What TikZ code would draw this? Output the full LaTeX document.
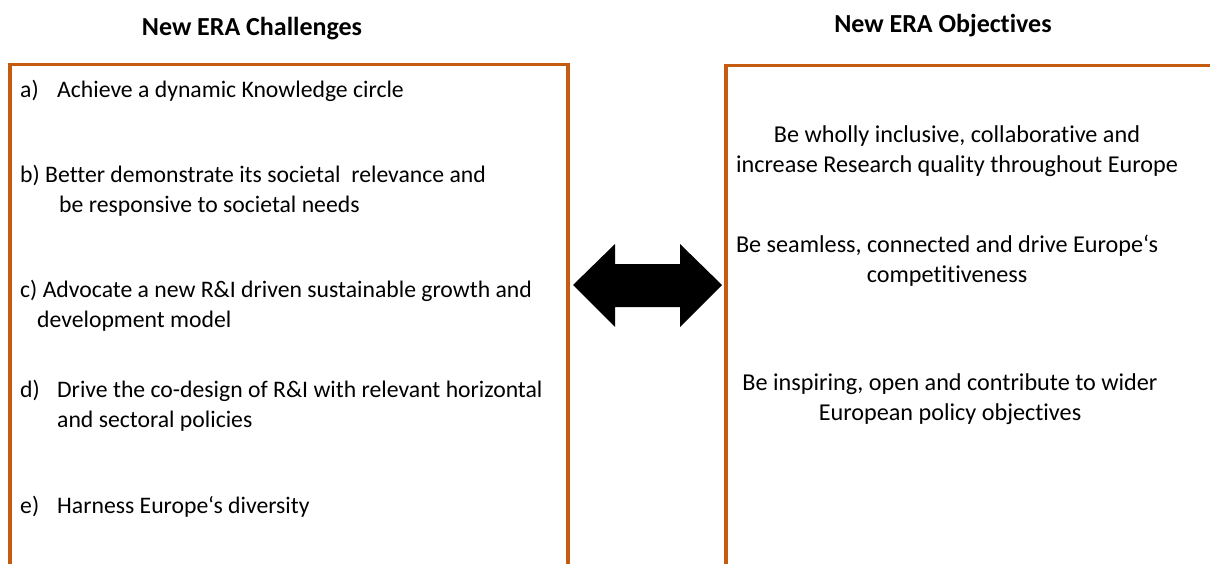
\documentclass[tikz,border=0pt]{standalone}
\usepackage{fontspec}
\setmainfont[Ligatures={NoCommon}]{Carlito}
\definecolor{boxorange}{HTML}{C55A11}
\begin{document}
\begin{tikzpicture}[x=1pt,y=-1pt,
  frame/.style={draw=boxorange,line width=3.5pt},
  heading/.style={font=\fontsize{26}{30}\selectfont\bfseries,anchor=base,inner sep=0pt},
  itemtext/.style={font=\fontsize{23.7}{30}\selectfont,anchor=base west,align=left,inner sep=0pt},
  objtext/.style={font=\fontsize{24.2}{30}\selectfont,anchor=base,align=center,inner sep=0pt},
  bigarrow/.style={fill=black}]
\useasboundingbox (0,0) rectangle (1210,563);
% frames
\draw[frame] (10,600) -- (10,64.5) -- (568,64.5) -- (568,600);
\draw[frame] (726,600) -- (726,65.5) -- (1220,65.5);
% headings
\node[heading] (titleL) at (252,35) {New ERA Challenges};
\node[heading] (titleR) at (943,32) {New ERA Objectives};
% challenges (base anchor of a two-line node = last line)
\newcommand{\lbl}[1]{\makebox[37pt][l]{#1}}
\node[itemtext] (chA) at (20,97) {\lbl{a)}Achieve a dynamic Knowledge circle};
\node[itemtext] (chB) at (20,212) {b) Better demonstrate its societal\ \ relevance and\\\hspace*{39pt}be responsive to societal needs};
\node[itemtext] (chC) at (20,327) {c) Advocate a new R\&I driven sustainable growth and\\\hspace*{17pt}development model};
\node[itemtext] (chD) at (20,427) {\lbl{d)}Drive the co-design of R\&I with relevant horizontal\\\hspace*{37pt}and sectoral policies};
\node[itemtext] (chE) at (20,513) {\lbl{e)}Harness Europe‘s diversity};
% objectives
\node[objtext] (obA) at (957,172) {Be wholly inclusive, collaborative and\\increase Research quality throughout Europe};
\node[objtext] (obB) at (947,282) {Be seamless, connected and drive Europe‘s\\competitiveness};
\node[objtext] (obC) at (950,420) {Be inspiring, open and contribute to wider\\European policy objectives};
% double arrow
\fill[bigarrow] (573,285) -- (615,244) -- (615,264) -- (680,264) -- (680,244) -- (722,285)
  -- (680,327) -- (680,307) -- (615,307) -- (615,327) -- cycle;
\end{tikzpicture}
\end{document}
